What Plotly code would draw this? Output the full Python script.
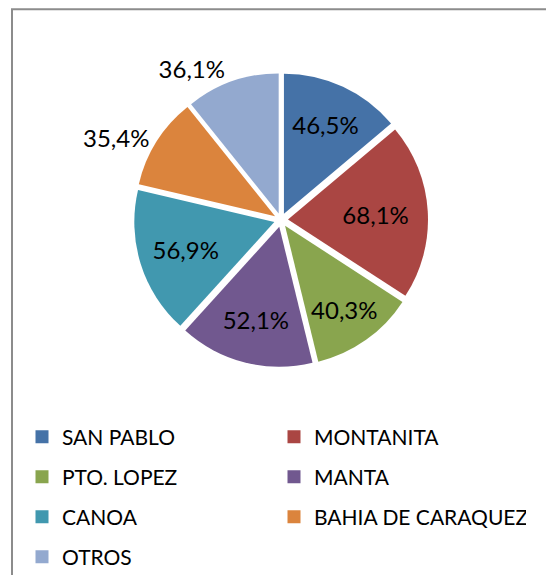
import plotly.graph_objects as go

categories = ["SAN PABLO", "MONTANITA", "PTO. LOPEZ", "MANTA", "CANOA", "BAHIA DE CARAQUEZ", "OTROS"]
values = [46.5, 68.1, 40.3, 52.1, 56.9, 35.4, 36.1]
colors = ["#4572A7", "#AA4643", "#89A54E", "#71588F", "#4198AF", "#DB843D", "#93A9CF"]
text_positions = ["inside", "inside", "inside", "inside", "inside", "outside", "outside"]
legend_rows = [["SAN PABLO", "MONTANITA"], ["PTO. LOPEZ", "MANTA"],
               ["CANOA", "BAHIA DE CARAQUEZ"], ["OTROS"]]

# The page body has an 8px margin, so the figure is drawn 8px in from the corner.
OFF = 8
W, H = 554, 575
FONT = "Lato"


def px_x(x):
    return (x - OFF) / W


def px_y(y):
    return 1 - (y - OFF) / H


labels_txt = [f"{v:.1f}".replace(".", ",") + "%" for v in values]

fig = go.Figure()

cx, cy, half = 281, 220, 147
fig.add_trace(go.Pie(
    labels=categories, values=values, text=labels_txt,
    textinfo="text", textposition=text_positions,
    insidetextorientation="horizontal",
    marker=dict(colors=colors, line=dict(color="white", width=0)),
    pull=[0.05] * len(values),
    sort=False, direction="clockwise", rotation=0,
    textfont=dict(family=FONT, size=24, color="black"),
    outsidetextfont=dict(family=FONT, size=24, color="black"),
    insidetextfont=dict(family=FONT, size=24, color="black"),
    domain=dict(x=[px_x(cx - half), px_x(cx + half)],
                y=[px_y(cy + half), px_y(cy - half)]),
    showlegend=False, hoverinfo="label+text",
))

row_y = [437, 477, 517, 557]
legend_names = ["legend", "legend2", "legend3", "legend4"]
color_of = dict(zip(categories, colors))
layout_legends = {}
for i, row in enumerate(legend_rows):
    for name in row:
        fig.add_trace(go.Scatter(
            x=[None], y=[None], mode="markers", name=name,
            marker=dict(symbol="square", size=13, color=color_of[name]),
            legend=legend_names[i], showlegend=True, hoverinfo="skip",
        ))
    layout_legends[legend_names[i]] = dict(
        orientation="h", x=px_x(22), xanchor="left",
        y=px_y(row_y[i]), yanchor="middle",
        entrywidth=207, entrywidthmode="pixels",
        font=dict(family=FONT, size=21, color="black"),
        bgcolor="rgba(0,0,0,0)", traceorder="normal",
        itemclick=False, itemdoubleclick=False,
    )

fig.update_layout(
    width=W, height=H,
    margin=dict(l=0, r=0, t=0, b=0, autoexpand=False),
    paper_bgcolor="white", plot_bgcolor="white",
    xaxis=dict(visible=False), yaxis=dict(visible=False),
    shapes=[dict(type="rect", xref="paper", yref="paper",
                 x0=px_x(12), x1=1.2, y0=-0.2, y1=1 - 1.2 / H,
                 line=dict(color="#8C8C8C", width=2), fillcolor="rgba(0,0,0,0)",
                 layer="below")],
    **layout_legends,
)

fig.write_html("out.html")
